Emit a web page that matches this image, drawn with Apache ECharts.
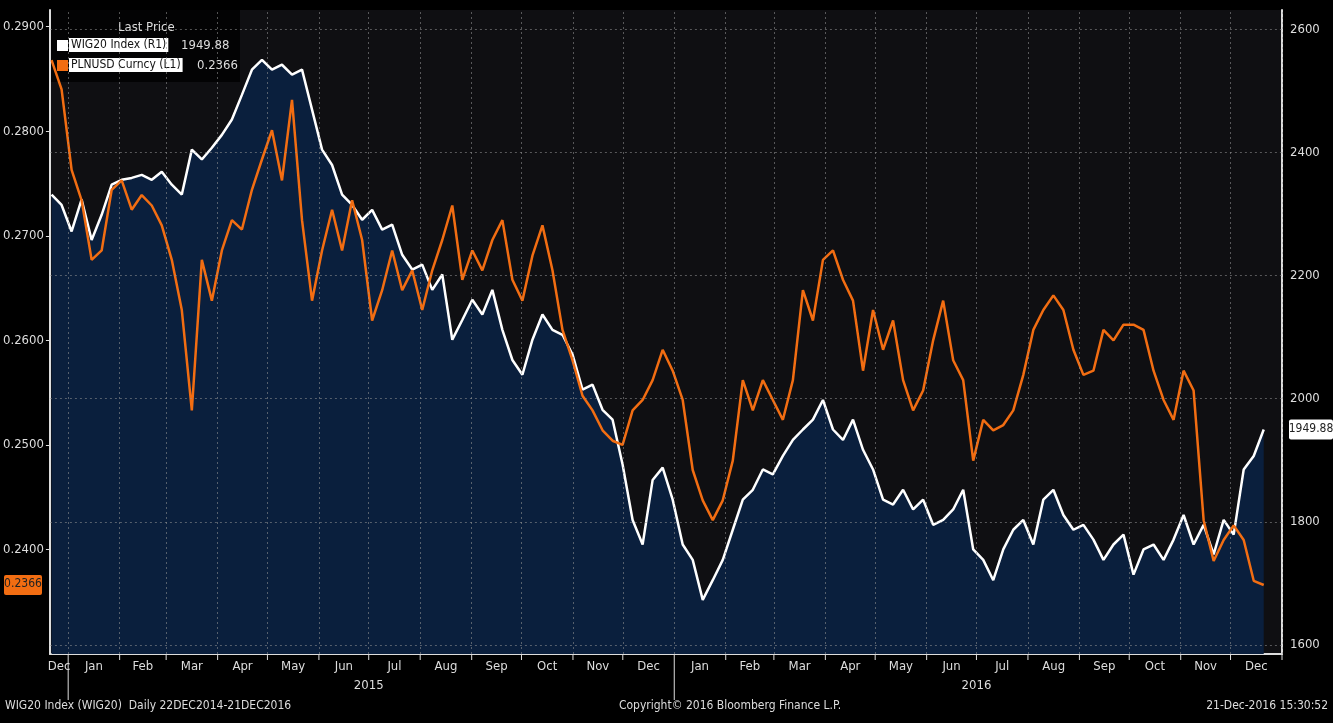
<!DOCTYPE html>
<html>
<head>
<meta charset="utf-8">
<script src="https://cdn.jsdelivr.net/npm/echarts@6/dist/echarts.min.js"></script>
<style>html,body{margin:0;background:#000;}#main{width:1333px;height:723px;}</style>
</head>
<body>
<div id="main"></div>
<script>
const FONT = '"Liberation Sans Narrow", "DejaVu Sans Condensed", sans-serif';
const wig20 = [2332,2315,2272,2324,2258,2299,2348,2356,2359,2364,2356,2369,2348,2332,2405,2389,2408,2429,2454,2494,
  2535,2551,2535,2543,2527,2535,2470,2405,2380,2332,2315,2291,2307,2275,2283,2234,2210,2218,2177,2202,
  2096,2128,2161,2137,2177,2112,2063,2039,2096,2137,2112,2104,2072,2015,2023,1982,1966,1893,1803,1763,
  1868,1888,1836,1763,1738,1673,1705,1738,1787,1836,1852,1885,1877,1907,1933,1950,1966,1998,1950,1933,
  1966,1917,1885,1836,1828,1852,1820,1836,1795,1803,1820,1852,1755,1738,1705,1755,1787,1803,1763,1836,
  1852,1811,1787,1795,1771,1738,1763,1779,1714,1755,1763,1738,1771,1811,1763,1795,1747,1803,1779,1885,
  1907,1949.88];
const plnusd = [.2868,.2840,.2763,.2734,.2677,.2686,.2744,.2753,.2725,.2739,.2729,.2710,.2677,.2629,.2533,.2677,.2638,.2686,.2715,.2706,
  .2744,.2773,.2801,.2753,.2830,.2715,.2638,.2686,.2725,.2686,.2734,.2696,.2619,.2648,.2686,.2648,.2667,.2629,.2667,.2696,
  .2729,.2658,.2686,.2667,.2696,.2715,.2658,.2638,.2681,.2710,.2667,.2610,.2581,.2547,.2533,.2514,.2504,.2500,.2533,.2543,
  .2562,.2591,.2571,.2543,.2476,.2447,.2428,.2447,.2485,.2562,.2533,.2562,.2543,.2524,.2562,.2648,.2619,.2677,.2686,.2658,
  .2638,.2571,.2629,.2591,.2619,.2562,.2533,.2552,.2600,.2638,.2581,.2562,.2485,.2524,.2514,.2519,.2533,.2567,.2610,.2629,
  .2643,.2629,.2591,.2567,.2571,.2610,.2600,.2615,.2615,.2610,.2571,.2543,.2524,.2571,.2552,.2428,.2389,.2409,.2423,.2409,
  .2370,.2366];

const start = Date.UTC(2014, 11, 22), end = Date.UTC(2016, 11, 21);
const toSeries = arr => arr.map((v, i) => [start + (end - start) * i / (arr.length - 1), v]);

const monthStarts = [];
for (let y = 2015; y <= 2016; y++) {
    for (let m = 0; m < 12; m++) monthStarts.push(Date.UTC(y, m, 1));
}
monthStarts.push(Date.UTC(2017, 0, 1));
const grid = 'rgba(150,150,150,0.55)';

const myChart = echarts.init(document.getElementById('main'));
myChart.setOption({
    backgroundColor: '#000',
    animation: false,
    grid: { left: 47, right: 51, top: 10, bottom: 69, show: true, backgroundColor: '#0f0f12', borderWidth: 0 },
    xAxis: {
        type: 'time', min: Date.UTC(2014, 11, 21), max: Date.UTC(2017, 0, 1),
        axisLine: { lineStyle: { color: '#ddd', width: 2 } },
        axisTick: { show: false }, axisLabel: { show: false }, splitLine: { show: false }
    },
    yAxis: [{
        type: 'value', position: 'left', min: 0.23, max: 0.2916, interval: 0.01,
        axisLine: { show: true, lineStyle: { color: '#ddd', width: 2 } },
        axisTick: { show: true, length: 4, lineStyle: { color: '#ddd' } },
        axisLabel: { color: '#ddd', fontFamily: FONT, fontSize: 13, margin: 6, showMinLabel: false, showMaxLabel: false,
            formatter: v => v.toFixed(4) },
        splitLine: { show: false }
    }, {
        type: 'value', position: 'right', min: 1585, max: 2632,
        axisLine: { show: true, lineStyle: { color: '#ddd', width: 2 } },
        axisTick: { show: false }, axisLabel: { show: false }, splitLine: { show: false }
    }],
    series: [{
        name: 'WIG20 Index (R1)', type: 'line', yAxisIndex: 1, data: toSeries(wig20),
        showSymbol: false, lineStyle: { color: '#fff', width: 2.5 },
        areaStyle: { color: '#0a1f3d', opacity: 1 }, z: 2,
        markLine: {
            silent: true, symbol: 'none',
            lineStyle: { color: grid, type: [2, 3], width: 1 },
            label: { position: 'end', color: '#ddd', fontFamily: FONT, fontSize: 13, formatter: p => p.value, distance: 8 },
            data: [1600, 1800, 2000, 2200, 2400, 2600].map(v => ({ yAxis: v }))
        }
    }, {
        name: 'PLNUSD Curncy (L1)', type: 'line', yAxisIndex: 0, data: toSeries(plnusd),
        showSymbol: false, lineStyle: { color: '#f26d12', width: 2.5 }, z: 3,
        markLine: {
            silent: true, symbol: 'none',
            lineStyle: { color: grid, type: [2, 3], width: 1 },
            label: { show: false },
            data: monthStarts.map(t => ({ xAxis: t }))
        }
    }]
});

// axis labels, ticks, tags and legend placed via the chart's own scales
const g = [];
const px = t => myChart.convertToPixel({ xAxisIndex: 0 }, t);
const axisY = 654;
const months = ['Jan','Feb','Mar','Apr','May','Jun','Jul','Aug','Sep','Oct','Nov','Dec'];
const txt = (x, y, s, opt) => g.push({ type: 'text', x, y, style: Object.assign({ text: s, fill: '#ddd', font: '13px ' + FONT }, opt || {}) });
const line = (x1, y1, x2, y2, c) => g.push({ type: 'line', shape: { x1, y1, x2, y2 }, style: { stroke: c || '#ddd', lineWidth: 1 } });

txt((px(Date.UTC(2014, 11, 21)) + px(Date.UTC(2015, 0, 1))) / 2, axisY + 6, 'Dec', { align: 'center' });
monthStarts.forEach((t, i) => {
    const x = px(t);
    const d = new Date(t);
    line(x, axisY, x, d.getUTCMonth() === 0 && i < monthStarts.length - 1 ? 700 : axisY + 6);
    if (i < monthStarts.length - 1) {
        const xm = (x + px(monthStarts[i + 1])) / 2;
        txt(xm, axisY + 6, months[d.getUTCMonth()], { align: 'center' });
    }
});
txt(px(Date.UTC(2015, 6, 1)), axisY + 25, '2015', { align: 'center' });
txt(px(Date.UTC(2016, 6, 1)), axisY + 25, '2016', { align: 'center' });

// last value tags
const yL = myChart.convertToPixel({ yAxisIndex: 0 }, plnusd[plnusd.length - 1]);
g.push({ type: 'rect', shape: { x: 4, y: yL - 10, width: 38, height: 20, r: 2 }, style: { fill: '#f26d12' } });
txt(23, yL - 7, '0.2366', { align: 'center', fill: '#222', font: '12px ' + FONT });
const yR = myChart.convertToPixel({ yAxisIndex: 1 }, wig20[wig20.length - 1]);
g.push({ type: 'rect', shape: { x: 1289, y: yR - 10, width: 44, height: 20, r: 2 }, style: { fill: '#fff' } });
txt(1311, yR - 7, '1949.88', { align: 'center', fill: '#222', font: '12px ' + FONT });

// legend
g.push({ type: 'rect', shape: { x: 48, y: 10, width: 192, height: 72 }, style: { fill: 'rgba(0,0,0,0.75)' } });
txt(118, 21, 'Last Price', { font: '13px ' + FONT });
g.push({ type: 'rect', shape: { x: 57, y: 40, width: 11, height: 11 }, style: { fill: '#fff' } });
txt(69, 38, 'WIG20 Index (R1)', { fill: '#111', backgroundColor: '#fff', padding: [1, 2, 1, 2], font: '12px ' + FONT });
txt(181, 39, '1949.88');
g.push({ type: 'rect', shape: { x: 57, y: 60, width: 11, height: 11 }, style: { fill: '#f26d12' } });
txt(69, 58, 'PLNUSD Curncy (L1)', { fill: '#111', backgroundColor: '#fff', padding: [1, 2, 1, 2], font: '12px ' + FONT });
txt(197, 59, '0.2366');

// footer
txt(5, 700, 'WIG20 Index (WIG20)  Daily 22DEC2014-21DEC2016', { font: '12px ' + FONT });
txt(730, 700, 'Copyright\u00a9 2016 Bloomberg Finance L.P.', { align: 'center', font: '12px ' + FONT });
txt(1328, 700, '21-Dec-2016 15:30:52', { align: 'right', font: '12px ' + FONT });

myChart.setOption({ graphic: g });
</script>
</body>
</html>
